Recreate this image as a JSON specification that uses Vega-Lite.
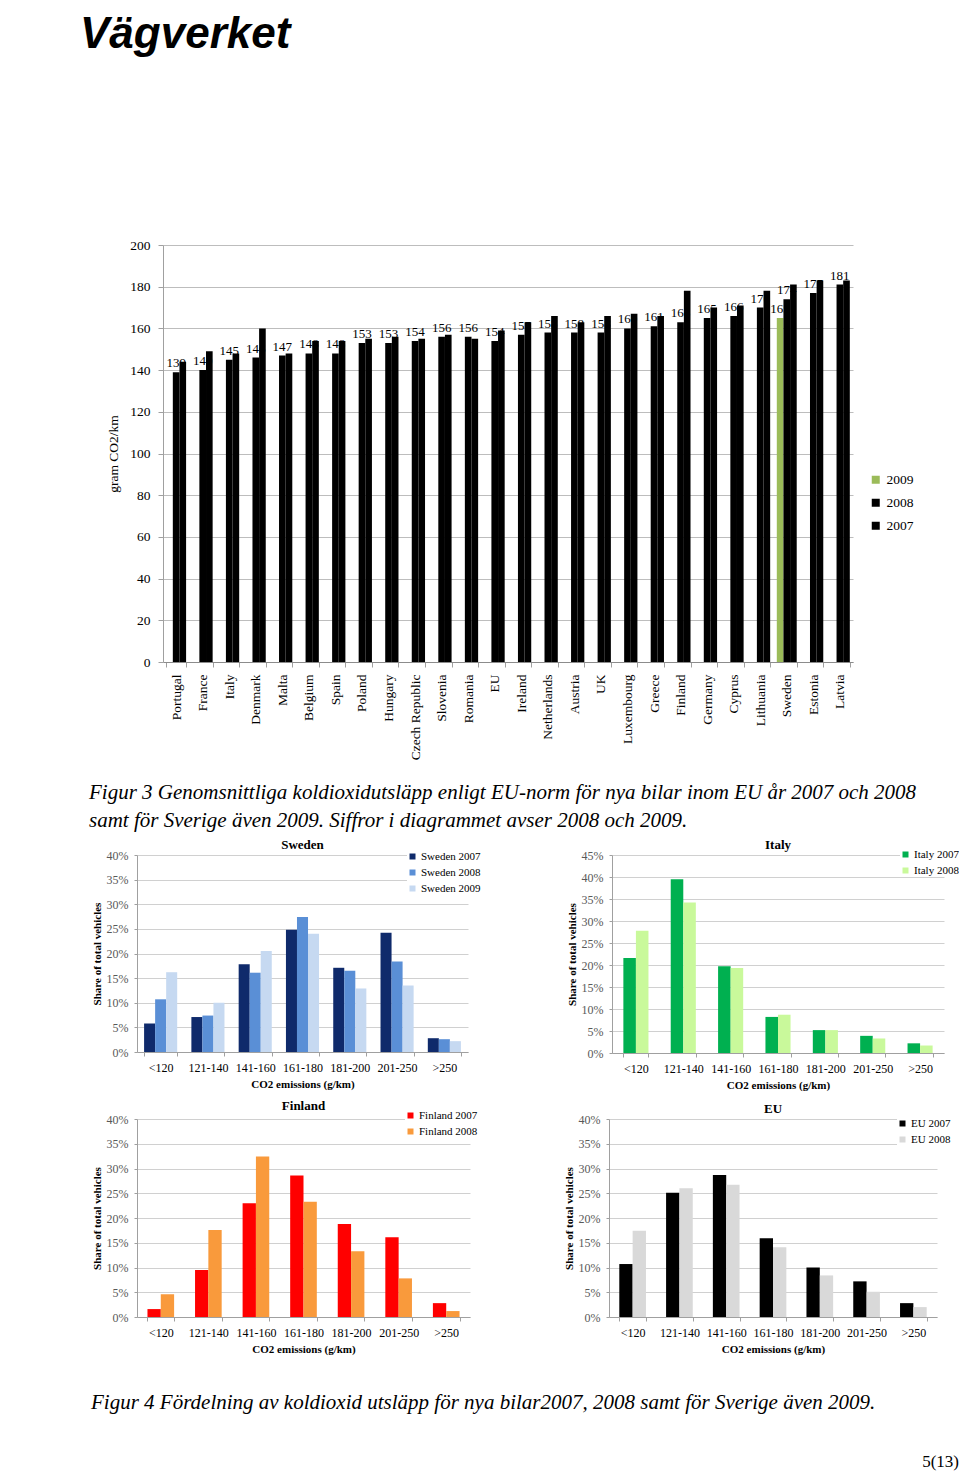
{
  "$schema": "https://vega.github.io/schema/vega-lite/v6.json",
  "padding": {"left": 80, "top": 13, "right": 0, "bottom": 4},
  "background": "white",
  "title": {"text": "Vägverket", "anchor": "start", "dx": -9, "offset": 181, "fontSize": 44, "font": "Liberation Sans", "fontStyle": "italic", "fontWeight": "bold", "color": "black"},
  "config": {
    "view": {"stroke": null},
    "font": "Liberation Serif",
    "title": {"color": "black", "font": "Liberation Serif"},
    "axis": {"domainColor": "#a0a0a0", "tickColor": "#a0a0a0", "gridColor": "#bdbdbd", "labelColor": "black", "titleColor": "black", "labelFont": "Liberation Serif", "titleFont": "Liberation Serif"},
    "legend": {"labelFont": "Liberation Serif", "labelColor": "black"}
  },
  "spacing": 8,
  "resolve": {"scale": {"color": "independent", "xOffset": "independent"}, "legend": {"color": "independent"}},
  "vconcat": [
    {
      "width": 716,
      "height": 417,
      "title": {"text": ["Figur 3 Genomsnittliga koldioxidutsläpp enligt EU-norm för nya bilar inom EU år 2007 och 2008", "samt för Sverige även 2009. Siffror i diagrammet avser 2008 och 2009."], "orient": "bottom", "anchor": "start", "frame": "group", "dx": -48, "offset": 22, "fontSize": 21, "lineHeight": 28, "fontStyle": "italic", "fontWeight": "normal", "font": "Liberation Serif"},
      "data": {"values": [
        {"country": "Portugal", "year": "2008", "value": 139}, {"country": "Portugal", "year": "2007", "value": 144},
        {"country": "France", "year": "2008", "value": 140}, {"country": "France", "year": "2007", "value": 149},
        {"country": "Italy", "year": "2008", "value": 145}, {"country": "Italy", "year": "2007", "value": 148},
        {"country": "Denmark", "year": "2008", "value": 146}, {"country": "Denmark", "year": "2007", "value": 160},
        {"country": "Malta", "year": "2008", "value": 147}, {"country": "Malta", "year": "2007", "value": 148},
        {"country": "Belgium", "year": "2008", "value": 148}, {"country": "Belgium", "year": "2007", "value": 154},
        {"country": "Spain", "year": "2008", "value": 148}, {"country": "Spain", "year": "2007", "value": 154},
        {"country": "Poland", "year": "2008", "value": 153}, {"country": "Poland", "year": "2007", "value": 155},
        {"country": "Hungary", "year": "2008", "value": 153}, {"country": "Hungary", "year": "2007", "value": 156},
        {"country": "Czech Republic", "year": "2008", "value": 154}, {"country": "Czech Republic", "year": "2007", "value": 155},
        {"country": "Slovenia", "year": "2008", "value": 156}, {"country": "Slovenia", "year": "2007", "value": 157},
        {"country": "Romania", "year": "2008", "value": 156}, {"country": "Romania", "year": "2007", "value": 155},
        {"country": "EU", "year": "2008", "value": 154}, {"country": "EU", "year": "2007", "value": 159},
        {"country": "Ireland", "year": "2008", "value": 157}, {"country": "Ireland", "year": "2007", "value": 163},
        {"country": "Netherlands", "year": "2008", "value": 158}, {"country": "Netherlands", "year": "2007", "value": 166},
        {"country": "Austria", "year": "2008", "value": 158}, {"country": "Austria", "year": "2007", "value": 163},
        {"country": "UK", "year": "2008", "value": 158}, {"country": "UK", "year": "2007", "value": 166},
        {"country": "Luxembourg", "year": "2008", "value": 160}, {"country": "Luxembourg", "year": "2007", "value": 167},
        {"country": "Greece", "year": "2008", "value": 161}, {"country": "Greece", "year": "2007", "value": 166},
        {"country": "Finland", "year": "2008", "value": 163}, {"country": "Finland", "year": "2007", "value": 178},
        {"country": "Germany", "year": "2008", "value": 165}, {"country": "Germany", "year": "2007", "value": 170},
        {"country": "Cyprus", "year": "2008", "value": 166}, {"country": "Cyprus", "year": "2007", "value": 171},
        {"country": "Lithuania", "year": "2008", "value": 170}, {"country": "Lithuania", "year": "2007", "value": 178},
        {"country": "Sweden", "year": "2009", "value": 165}, {"country": "Sweden", "year": "2008", "value": 174}, {"country": "Sweden", "year": "2007", "value": 181},
        {"country": "Estonia", "year": "2008", "value": 177}, {"country": "Estonia", "year": "2007", "value": 183},
        {"country": "Latvia", "year": "2008", "value": 181}, {"country": "Latvia", "year": "2007", "value": 183}
      ]},
      "encoding": {
        "x": {"field": "country", "type": "nominal",
          "sort": ["Portugal", "France", "Italy", "Denmark", "Malta", "Belgium", "Spain", "Poland", "Hungary", "Czech Republic", "Slovenia", "Romania", "EU", "Ireland", "Netherlands", "Austria", "UK", "Luxembourg", "Greece", "Finland", "Germany", "Cyprus", "Lithuania", "Sweden", "Estonia", "Latvia"],
          "scale": {"range": [26, 716], "paddingInner": 0.25, "paddingOuter": 0.12},
          "axis": {"title": null, "labelAngle": -90, "labelFontSize": 13.5, "labelPadding": 7, "tickBand": "extent", "tickSize": 5, "domainColor": "#8c8c8c"}},
        "xOffset": {"field": "year", "type": "nominal", "scale": {"domain": ["2009", "2008", "2007"]}},
        "y": {"field": "value", "type": "quantitative", "scale": {"domain": [0, 200]},
          "axis": {"offset": -26, "values": [0, 20, 40, 60, 80, 100, 120, 140, 160, 180, 200], "title": "gram CO2/km", "titleFontSize": 13.5, "titleFontWeight": "normal", "labelFontSize": 13.5, "labelPadding": 8, "titlePadding": 9, "tickSize": 5, "grid": true}}
      },
      "layer": [
        {"transform": [{"filter": "datum.year != '2007'"}],
         "mark": {"type": "text", "baseline": "alphabetic", "dy": -5, "fontSize": 13, "font": "Liberation Serif", "color": "black"},
         "encoding": {"text": {"field": "value", "type": "quantitative"}}},
        {"mark": {"type": "bar"},
         "encoding": {"color": {"field": "year", "type": "nominal",
           "scale": {"domain": ["2009", "2008", "2007"], "range": ["#9bbb59", "#000000", "#000000"]},
           "legend": {"title": null, "orient": "none", "legendX": 732, "legendY": 228, "labelFontSize": 13.5, "symbolType": "square", "symbolSize": 64, "symbolStrokeWidth": 0, "rowPadding": 8}}}}
      ]
    },
    {
      "spacing": 10,
      "resolve": {"scale": {"color": "independent", "xOffset": "independent"}, "legend": {"color": "independent"}},
      "title": {"text": "5(13)", "orient": "bottom", "anchor": "end", "offset": 41, "fontSize": 17, "fontWeight": "normal", "font": "Liberation Serif"},
      "vconcat": [
        {
          "spacing": 85,
          "resolve": {"scale": {"color": "independent", "xOffset": "independent"}, "legend": {"color": "independent"}},
          "hconcat": [
            {
              "width": 331, "height": 197,
              "data": {"values": [
                {"series": "Sweden 2007", "band": "<120", "share": 0.058}, {"series": "Sweden 2008", "band": "<120", "share": 0.107}, {"series": "Sweden 2009", "band": "<120", "share": 0.162},
                {"series": "Sweden 2007", "band": "121-140", "share": 0.071}, {"series": "Sweden 2008", "band": "121-140", "share": 0.074}, {"series": "Sweden 2009", "band": "121-140", "share": 0.100},
                {"series": "Sweden 2007", "band": "141-160", "share": 0.178}, {"series": "Sweden 2008", "band": "141-160", "share": 0.161}, {"series": "Sweden 2009", "band": "141-160", "share": 0.205},
                {"series": "Sweden 2007", "band": "161-180", "share": 0.248}, {"series": "Sweden 2008", "band": "161-180", "share": 0.274}, {"series": "Sweden 2009", "band": "161-180", "share": 0.240},
                {"series": "Sweden 2007", "band": "181-200", "share": 0.171}, {"series": "Sweden 2008", "band": "181-200", "share": 0.165}, {"series": "Sweden 2009", "band": "181-200", "share": 0.129},
                {"series": "Sweden 2007", "band": "201-250", "share": 0.242}, {"series": "Sweden 2008", "band": "201-250", "share": 0.184}, {"series": "Sweden 2009", "band": "201-250", "share": 0.135},
                {"series": "Sweden 2007", "band": ">250", "share": 0.028}, {"series": "Sweden 2008", "band": ">250", "share": 0.026}, {"series": "Sweden 2009", "band": ">250", "share": 0.022}
              ]},
              "title": {"text": "Sweden", "fontSize": 13, "fontWeight": "bold", "offset": -3},
              "mark": {"type": "bar"},
              "encoding": {
                "x": {"field": "band", "type": "nominal", "sort": ["<120", "121-140", "141-160", "161-180", "181-200", "201-250", ">250"], "scale": {"paddingInner": 0.3, "paddingOuter": 0.15},
                  "axis": {"title": "CO2 emissions (g/km)", "labelAngle": 0, "tickBand": "extent", "tickSize": 4, "labelFontSize": 12, "titleFontSize": 11, "titleFontWeight": "bold", "labelPadding": 6, "titlePadding": 5}},
                "xOffset": {"field": "series", "type": "nominal"},
                "y": {"field": "share", "type": "quantitative", "scale": {"domain": [0, 0.4]},
                  "axis": {"format": ".0%", "values": [0, 0.05, 0.1, 0.15, 0.2, 0.25, 0.3, 0.35, 0.4], "title": "Share of total vehicles", "titleFontSize": 11, "titleFontWeight": "bold", "labelFontSize": 12, "labelColor": "#595959", "tickSize": 3, "labelPadding": 6, "titlePadding": 4, "gridColor": "#d0d0d0"}},
                "color": {"field": "series", "type": "nominal", "scale": {"domain": ["Sweden 2007", "Sweden 2008", "Sweden 2009"], "range": ["#0f2a6b", "#5a8fd6", "#c6d9f1"]},
                  "legend": {"title": null, "orient": "none", "legendX": 270, "legendY": -4, "fillColor": "white", "labelFontSize": 11, "labelOffset": 3, "symbolType": "square", "symbolSize": 36, "symbolStrokeWidth": 0, "rowPadding": 4}}
              }
            },
            {
              "width": 332, "height": 198,
              "data": {"values": [
                {"series": "Italy 2007", "band": "<120", "share": 0.216}, {"series": "Italy 2008", "band": "<120", "share": 0.278},
                {"series": "Italy 2007", "band": "121-140", "share": 0.395}, {"series": "Italy 2008", "band": "121-140", "share": 0.342},
                {"series": "Italy 2007", "band": "141-160", "share": 0.197}, {"series": "Italy 2008", "band": "141-160", "share": 0.193},
                {"series": "Italy 2007", "band": "161-180", "share": 0.082}, {"series": "Italy 2008", "band": "161-180", "share": 0.087},
                {"series": "Italy 2007", "band": "181-200", "share": 0.052}, {"series": "Italy 2008", "band": "181-200", "share": 0.052},
                {"series": "Italy 2007", "band": "201-250", "share": 0.039}, {"series": "Italy 2008", "band": "201-250", "share": 0.033},
                {"series": "Italy 2007", "band": ">250", "share": 0.022}, {"series": "Italy 2008", "band": ">250", "share": 0.017}
              ]},
              "title": {"text": "Italy", "fontSize": 13, "fontWeight": "bold", "offset": -3},
              "mark": {"type": "bar"},
              "encoding": {
                "x": {"field": "band", "type": "nominal", "sort": ["<120", "121-140", "141-160", "161-180", "181-200", "201-250", ">250"], "scale": {"paddingInner": 0.47, "paddingOuter": 0.24},
                  "axis": {"title": "CO2 emissions (g/km)", "labelAngle": 0, "tickBand": "extent", "tickSize": 4, "labelFontSize": 12, "titleFontSize": 11, "titleFontWeight": "bold", "labelPadding": 6, "titlePadding": 5}},
                "xOffset": {"field": "series", "type": "nominal"},
                "y": {"field": "share", "type": "quantitative", "scale": {"domain": [0, 0.45]},
                  "axis": {"format": ".0%", "values": [0, 0.05, 0.1, 0.15, 0.2, 0.25, 0.3, 0.35, 0.4, 0.45], "title": "Share of total vehicles", "titleFontSize": 11, "titleFontWeight": "bold", "labelFontSize": 12, "labelColor": "#595959", "tickSize": 3, "labelPadding": 6, "titlePadding": 4, "gridColor": "#d0d0d0"}},
                "color": {"field": "series", "type": "nominal", "scale": {"domain": ["Italy 2007", "Italy 2008"], "range": ["#00b050", "#c9f99b"]},
                  "legend": {"title": null, "orient": "none", "legendX": 288, "legendY": -6, "fillColor": "white", "labelFontSize": 11, "labelOffset": 3, "symbolType": "square", "symbolSize": 36, "symbolStrokeWidth": 0, "rowPadding": 4}}
              }
            }
          ]
        },
        {
          "spacing": 85,
          "resolve": {"scale": {"color": "independent", "xOffset": "independent"}, "legend": {"color": "independent"}},
          "title": {"text": "Figur 4 Fördelning av koldioxid utsläpp för nya bilar2007, 2008 samt för Sverige även 2009.", "orient": "bottom", "anchor": "start", "offset": 38, "fontSize": 21, "fontStyle": "italic", "fontWeight": "normal", "font": "Liberation Serif"},
          "hconcat": [
            {
              "width": 333, "height": 198,
              "data": {"values": [
                {"series": "Finland 2007", "band": "<120", "share": 0.016}, {"series": "Finland 2008", "band": "<120", "share": 0.046},
                {"series": "Finland 2007", "band": "121-140", "share": 0.095}, {"series": "Finland 2008", "band": "121-140", "share": 0.176},
                {"series": "Finland 2007", "band": "141-160", "share": 0.230}, {"series": "Finland 2008", "band": "141-160", "share": 0.324},
                {"series": "Finland 2007", "band": "161-180", "share": 0.286}, {"series": "Finland 2008", "band": "161-180", "share": 0.233},
                {"series": "Finland 2007", "band": "181-200", "share": 0.188}, {"series": "Finland 2008", "band": "181-200", "share": 0.133},
                {"series": "Finland 2007", "band": "201-250", "share": 0.161}, {"series": "Finland 2008", "band": "201-250", "share": 0.078},
                {"series": "Finland 2007", "band": ">250", "share": 0.028}, {"series": "Finland 2008", "band": ">250", "share": 0.012}
              ]},
              "title": {"text": "Finland", "fontSize": 13, "fontWeight": "bold", "offset": -3},
              "mark": {"type": "bar"},
              "encoding": {
                "x": {"field": "band", "type": "nominal", "sort": ["<120", "121-140", "141-160", "161-180", "181-200", "201-250", ">250"], "scale": {"paddingInner": 0.44, "paddingOuter": 0.22},
                  "axis": {"title": "CO2 emissions (g/km)", "labelAngle": 0, "tickBand": "extent", "tickSize": 4, "labelFontSize": 12, "titleFontSize": 11, "titleFontWeight": "bold", "labelPadding": 6, "titlePadding": 5}},
                "xOffset": {"field": "series", "type": "nominal"},
                "y": {"field": "share", "type": "quantitative", "scale": {"domain": [0, 0.4]},
                  "axis": {"format": ".0%", "values": [0, 0.05, 0.1, 0.15, 0.2, 0.25, 0.3, 0.35, 0.4], "title": "Share of total vehicles", "titleFontSize": 11, "titleFontWeight": "bold", "labelFontSize": 12, "labelColor": "#595959", "tickSize": 3, "labelPadding": 6, "titlePadding": 4, "gridColor": "#d0d0d0"}},
                "color": {"field": "series", "type": "nominal", "scale": {"domain": ["Finland 2007", "Finland 2008"], "range": ["#ff0000", "#f99a3c"]},
                  "legend": {"title": null, "orient": "none", "legendX": 268, "legendY": -9, "fillColor": "white", "labelFontSize": 11, "labelOffset": 3, "symbolType": "square", "symbolSize": 36, "symbolStrokeWidth": 0, "rowPadding": 4}}
              }
            },
            {
              "width": 328, "height": 198,
              "data": {"values": [
                {"series": "EU 2007", "band": "<120", "share": 0.107}, {"series": "EU 2008", "band": "<120", "share": 0.174},
                {"series": "EU 2007", "band": "121-140", "share": 0.251}, {"series": "EU 2008", "band": "121-140", "share": 0.260},
                {"series": "EU 2007", "band": "141-160", "share": 0.287}, {"series": "EU 2008", "band": "141-160", "share": 0.267},
                {"series": "EU 2007", "band": "161-180", "share": 0.159}, {"series": "EU 2008", "band": "161-180", "share": 0.141},
                {"series": "EU 2007", "band": "181-200", "share": 0.100}, {"series": "EU 2008", "band": "181-200", "share": 0.084},
                {"series": "EU 2007", "band": "201-250", "share": 0.072}, {"series": "EU 2008", "band": "201-250", "share": 0.051},
                {"series": "EU 2007", "band": ">250", "share": 0.028}, {"series": "EU 2008", "band": ">250", "share": 0.020}
              ]},
              "title": {"text": "EU", "fontSize": 13, "fontWeight": "bold", "offset": -3},
              "mark": {"type": "bar"},
              "encoding": {
                "x": {"field": "band", "type": "nominal", "sort": ["<120", "121-140", "141-160", "161-180", "181-200", "201-250", ">250"], "scale": {"paddingInner": 0.43, "paddingOuter": 0.22},
                  "axis": {"title": "CO2 emissions (g/km)", "labelAngle": 0, "tickBand": "extent", "tickSize": 4, "labelFontSize": 12, "titleFontSize": 11, "titleFontWeight": "bold", "labelPadding": 6, "titlePadding": 5}},
                "xOffset": {"field": "series", "type": "nominal"},
                "y": {"field": "share", "type": "quantitative", "scale": {"domain": [0, 0.4]},
                  "axis": {"format": ".0%", "values": [0, 0.05, 0.1, 0.15, 0.2, 0.25, 0.3, 0.35, 0.4], "title": "Share of total vehicles", "titleFontSize": 11, "titleFontWeight": "bold", "labelFontSize": 12, "labelColor": "#595959", "tickSize": 3, "labelPadding": 6, "titlePadding": 4, "gridColor": "#d0d0d0"}},
                "color": {"field": "series", "type": "nominal", "scale": {"domain": ["EU 2007", "EU 2008"], "range": ["#000000", "#d9d9d9"]},
                  "legend": {"title": null, "orient": "none", "legendX": 288, "legendY": -1, "fillColor": "white", "labelFontSize": 11, "labelOffset": 3, "symbolType": "square", "symbolSize": 36, "symbolStrokeWidth": 0, "rowPadding": 4}}
              }
            }
          ]
        }
      ]
    }
  ]
}
